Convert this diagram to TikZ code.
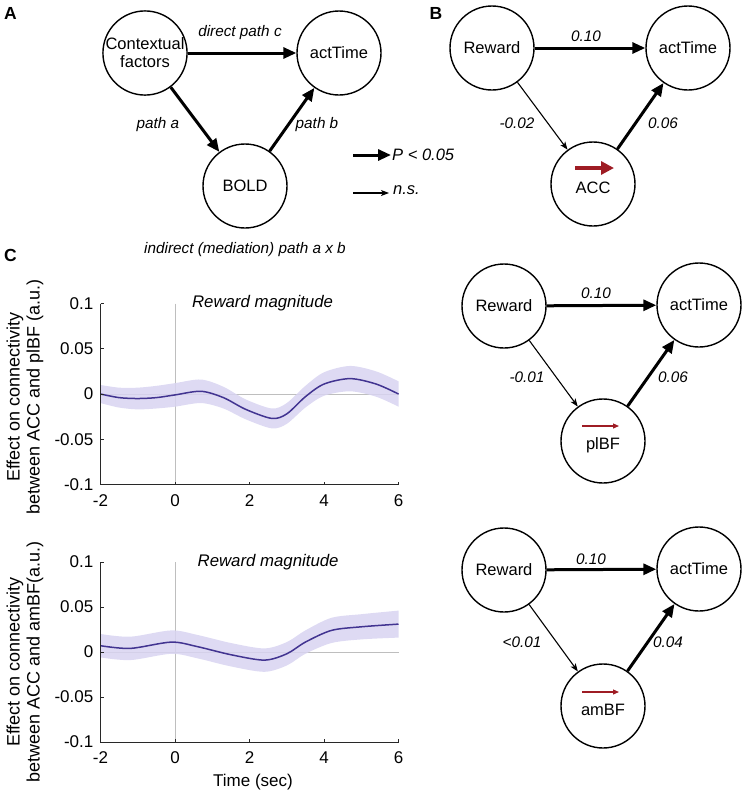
\documentclass[tikz,border=0pt]{standalone}
\usepackage{fontspec}
\setmainfont{Liberation Sans}
\usetikzlibrary{arrows.meta}
\definecolor{curvec}{RGB}{66,52,145}
\definecolor{bandc}{RGB}{216,212,241}
\definecolor{zgray}{RGB}{190,190,190}
\definecolor{redarr}{RGB}{158,28,36}
\definecolor{axisc}{RGB}{40,40,40}
\tikzset{
  circ/.style={circle, draw, line width=1.4pt, minimum size=84pt, inner sep=0pt, align=center, font=\fontsize{16.5}{18}\selectfont},
  sig/.style={line width=3pt, -{Triangle[length=13pt,width=11pt]}},
  nsig/.style={line width=1.1pt, -{Stealth[length=8pt,width=6pt,inset=2pt]}},
  redbig/.style={draw=redarr, line width=3.2pt, -{Triangle[length=13pt,width=13pt]}, redarr},
  redsmall/.style={draw=redarr, line width=1.2pt, -{Triangle[length=6pt,width=5pt]}, redarr},
  elab/.style={font=\fontsize{15.3}{17}\selectfont\itshape, inner sep=0pt},
  leglab/.style={font=\fontsize{16.5}{18}\selectfont\itshape, inner sep=0pt},
  titlab/.style={font=\fontsize{16.8}{18}\selectfont\itshape, inner sep=0pt},
  panel/.style={font=\fontsize{17.5}{19}\selectfont\bfseries, inner sep=0pt},
  ticklab/.style={font=\fontsize{17}{19}\selectfont, inner sep=0pt},
  ylab/.style={rotate=90, align=center, font=\fontsize{18}{20}\selectfont, inner sep=0pt},
  axisline/.style={draw=axisc, line width=1pt},
  zline/.style={draw=zgray, line width=1pt},
  curveline/.style={draw=curvec, line width=1.5pt},
  bandfill/.style={fill=bandc, fill opacity=0.85},
}
\begin{document}
\begin{tikzpicture}[x=1pt,y=-1pt]
\useasboundingbox (0,0) rectangle (744,793);

% ---------- Panel A ----------
\node[panel] (lA) at (10.5,13) {A};
\node[circ] (cf) at (145,53) {Contextual\\factors};
\node[circ] (atA) at (339,53) {actTime};
\node[circ] (bold) at (245,186) {BOLD};
\draw[sig] (cf) -- (atA);
\draw[sig] (cf) -- (bold);
\draw[sig] (bold) -- (atA);
\node[elab] (lc) at (240,33) {direct path c};
\node[elab] (la) at (158,125) {path a};
\node[elab] (lb) at (317,125) {path b};
\node[elab] (lind) at (245,250) {indirect (mediation) path a x b};

% legend
\coordinate (g1s) at (353,155);
\coordinate (g1e) at (391,155);
\draw[sig] (g1s) -- (g1e);
\node[leglab, anchor=west] (gp) at (392,155) {P < 0.05};
\coordinate (g2s) at (353,193);
\coordinate (g2e) at (389,193);
\draw[nsig] (g2s) -- (g2e);
\node[leglab, anchor=west] (gn) at (393,190) {n.s.};

% ---------- Panel B ----------
\node[panel] (lB) at (436,13) {B};
\node[circ] (rwB) at (492,48) {Reward};
\node[circ] (atB) at (688,48) {actTime};
\node[circ] (acc) at (593,184) {\\[2pt]ACC};
\draw[sig] (rwB) -- (atB);
\draw[nsig] (rwB) -- (acc);
\draw[sig] (acc) -- (atB);
\node[elab] (b1) at (586,36) {0.10};
\node[elab] (b2) at (517,123) {-0.02};
\node[elab] (b3) at (663,123) {0.06};
\coordinate (r1s) at ([shift={(-18,-16)}]acc.center);
\coordinate (r1e) at ([shift={(21,-16)}]acc.center);
\draw[redbig] (r1s) -- (r1e);

% ---------- Panel C diagrams ----------
\node[circ] (rw2) at (504,306) {Reward};
\node[circ] (at2) at (699,305) {actTime};
\node[circ] (pl) at (603,441) {\\[2pt]plBF};
\draw[sig] (rw2) -- (at2);
\draw[nsig] (rw2) -- (pl);
\draw[sig] (pl) -- (at2);
\node[elab] (c1) at (596,293) {0.10};
\node[elab] (c2) at (527,377) {-0.01};
\node[elab] (c3) at (673,377) {0.06};
\coordinate (r2s) at ([shift={(-21,-15)}]pl.center);
\coordinate (r2e) at ([shift={(16,-15)}]pl.center);
\draw[redsmall] (r2s) -- (r2e);

\node[circ] (rw3) at (504,570) {Reward};
\node[circ] (at3) at (699,569) {actTime};
\node[circ] (am) at (603,706) {\\[2pt]amBF};
\draw[sig] (rw3) -- (at3);
\draw[nsig] (rw3) -- (am);
\draw[sig] (am) -- (at3);
\node[elab] (d1) at (591,559) {0.10};
\node[elab] (d2) at (522,642) {<0.01};
\node[elab] (d3) at (668,642) {0.04};
\coordinate (r3s) at ([shift={(-21,-14)}]am.center);
\coordinate (r3e) at ([shift={(16,-14)}]am.center);
\draw[redsmall] (r3s) -- (r3e);

% ---------- Panel C plots ----------
\node[panel] (lC) at (10.5,255) {C};

% upper plot
\node[ylab] (yl1) at (25,397) {Effect on connectivity\\between ACC and plBF (a.u.)};
\begin{scope}[shift={(175,394)}, x=37.25pt, y=905pt]
  \draw[zline] (0,0.1) -- (0,-0.1);
  \draw[zline] (-2,0) -- (6,0);
  \fill[bandfill] plot[smooth] coordinates {(-2,0.010) (-1.5,0.007) (-1,0.007) (-0.5,0.009) (0,0.012) (0.7,0.016) (1.3,0.008) (1.9,-0.006) (2.6,-0.016) (3.0,-0.010) (3.5,0.009) (4,0.024) (4.7,0.031) (5.4,0.025) (6,0.014)}
     -- plot[smooth] coordinates {(6,-0.014) (5.4,-0.003) (4.7,0.003) (4,-0.002) (3.5,-0.015) (3.0,-0.033) (2.6,-0.038) (1.9,-0.028) (1.3,-0.016) (0.7,-0.010) (0,-0.014) (-0.5,-0.016) (-1,-0.017) (-1.5,-0.015) (-2,-0.010)} -- cycle;
  \draw[curveline] plot[smooth] coordinates {(-2,0) (-1.5,-0.004) (-1,-0.005) (-0.5,-0.004) (0,-0.001) (0.7,0.003) (1.3,-0.004) (1.9,-0.017) (2.6,-0.027) (3.0,-0.022) (3.5,-0.003) (4,0.011) (4.7,0.017) (5.4,0.011) (6,0)};
  \draw[axisline] (-2,0.1) -- (-2,-0.1) -- (6,-0.1);
  \foreach \v/\t [count=\i] in {0.1/0.1, 0.05/0.05, 0/0, -0.05/-0.05, -0.1/-0.1} {
    \draw[axisline] (-2,\v) -- ++(3pt,0);
    \node[ticklab, anchor=east] (ya\i) at ([xshift=-7pt]-2,\v) {\t};
  }
  \foreach \x [count=\i] in {-2,0,2,4,6} {
    \draw[axisline] (\x,-0.1) -- ++(0,3pt);
    \node[ticklab] (xa\i) at ([yshift=-16pt]\x,-0.1) {\x};
  }
  \node[titlab] (rm1) at (2.35,0.1) {Reward magnitude};
\end{scope}

% lower plot
\node[ylab] (yl2) at (25,662) {Effect on connectivity\\between ACC and amBF(a.u.)};
\begin{scope}[shift={(175,652)}, x=37.25pt, y=900pt]
  \draw[zline] (0,0.1) -- (0,-0.1);
  \draw[zline] (-2,0) -- (6,0);
  \fill[bandfill] plot[smooth] coordinates {(-2,0.020) (-1.2,0.017) (-0.1,0.024) (0.6,0.019) (1.5,0.010) (2.4,0.004) (3.0,0.011) (3.5,0.024) (4.2,0.038) (5,0.042) (6,0.046)}
     -- plot[smooth] coordinates {(6,0.016) (5,0.014) (4.2,0.010) (3.5,-0.002) (3.0,-0.015) (2.4,-0.022) (1.5,-0.016) (0.6,-0.007) (-0.1,-0.002) (-1.2,-0.009) (-2,-0.006)} -- cycle;
  \draw[curveline] plot[smooth] coordinates {(-2,0.007) (-1.2,0.004) (-0.1,0.011) (0.6,0.006) (1.5,-0.003) (2.4,-0.009) (3.0,-0.002) (3.5,0.011) (4.2,0.024) (5,0.028) (6,0.031)};
  \draw[axisline] (-2,0.1) -- (-2,-0.1) -- (6,-0.1);
  \foreach \v/\t [count=\i] in {0.1/0.1, 0.05/0.05, 0/0, -0.05/-0.05, -0.1/-0.1} {
    \draw[axisline] (-2,\v) -- ++(3pt,0);
    \node[ticklab, anchor=east] (yb\i) at ([xshift=-7pt]-2,\v) {\t};
  }
  \foreach \x [count=\i] in {-2,0,2,4,6} {
    \draw[axisline] (\x,-0.1) -- ++(0,3pt);
    \node[ticklab] (xb\i) at ([yshift=-16pt]\x,-0.1) {\x};
  }
  \node[titlab] (rm2) at (2.5,0.1) {Reward magnitude};
\end{scope}
\node[ticklab] (tsec) at (253,782) {Time (sec)};
\end{tikzpicture}
\end{document}
